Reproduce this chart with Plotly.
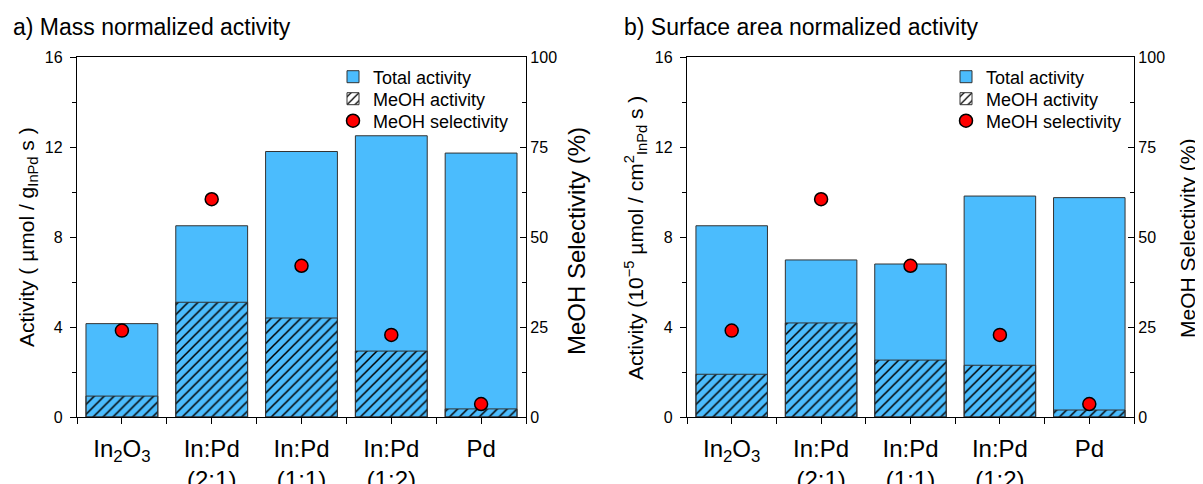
import plotly.graph_objects as go

# page body has an 8px margin, so the figure is drawn 8px in from the top-left corner
OFF = 8
W, H = 1203 - OFF, 484 - OFF

categories = ["In<sub>2</sub>O<sub>3</sub>", "In:Pd<br>(2:1)", "In:Pd<br>(1:1)", "In:Pd<br>(1:2)", "Pd"]
xpos = [0, 1, 2, 3, 4]

# a) Mass normalized activity
mass_total = [4.15, 8.5, 11.8, 12.5, 11.73]
mass_meoh = [0.93, 5.1, 4.4, 2.93, 0.36]
# b) Surface area normalized activity
surf_total = [8.5, 6.98, 6.8, 9.82, 9.75]
surf_meoh = [1.9, 4.18, 2.53, 2.3, 0.31]
# MeOH selectivity (%)
selectivity = [24.0, 60.5, 42.0, 22.8, 3.6]

act_ticks = [0, 4, 8, 12, 16]
sel_ticks = [0, 25, 50, 75, 100]

FONT = "Liberation Sans, Arial, sans-serif"
BLUE = "#4bbcfd"
EDGE = "#333333"


def px(x):
    return (x - OFF) / W


def py(y):
    return 1 - (y - OFF) / H


fig = go.Figure()


def add_panel(total, meoh, xa, ya, ya2, legs):
    fig.add_trace(go.Bar(x=xpos, y=total, width=0.8, name="Total activity",
                         marker=dict(color=BLUE, line=dict(color=EDGE, width=1)),
                         xaxis=xa, yaxis=ya, legend=legs[0]))
    fig.add_trace(go.Bar(x=xpos, y=meoh, width=0.8, name="MeOH activity",
                         marker=dict(color="rgba(0,0,0,0)", line=dict(color=EDGE, width=1),
                                     pattern=dict(shape="/", fgcolor="#000000", size=7,
                                                  solidity=0.22, fillmode="replace")),
                         xaxis=xa, yaxis=ya, legend=legs[1]))
    fig.add_trace(go.Scatter(x=xpos, y=selectivity, mode="markers", name="MeOH selectivity",
                             marker=dict(color="#ff0000", size=13, line=dict(color="#000000", width=1.5)),
                             xaxis=xa, yaxis=ya2, legend=legs[2]))


add_panel(mass_total, mass_meoh, "x", "y", "y2", ["legend", "legend2", "legend3"])
add_panel(surf_total, surf_meoh, "x2", "y3", "y4", ["legend4", "legend5", "legend6"])

tickfont = dict(family=FONT, size=16, color="black")
catfont = dict(family=FONT, size=24, color="black")


def xaxis_cfg(dom):
    return dict(domain=dom, range=[-0.5, 4.5], tickmode="array", tickvals=xpos, ticktext=categories,
                ticks="outside", ticklen=6, tickwidth=1.2, tickcolor="black", ticklabelstandoff=4,
                minor=dict(tickmode="array", tickvals=[-0.5, 0.5, 1.5, 2.5, 3.5, 4.5], ticks="outside",
                           ticklen=6, tickwidth=1.2, tickcolor="black"),
                showline=True, linecolor="black", linewidth=1.3, mirror=True,
                showgrid=False, zeroline=False, tickfont=catfont, automargin=False, fixedrange=True)


def yaxis_cfg(anchor):
    return dict(domain=[py(417), py(57)], anchor=anchor, range=[0, 16], tickmode="array", tickvals=act_ticks,
                ticks="outside", ticklen=6, tickwidth=1.2, tickcolor="black", ticklabelstandoff=4,
                minor=dict(dtick=2, ticks="outside", ticklen=4, tickwidth=1.2, tickcolor="black"),
                showline=True, linecolor="black", linewidth=1.3, showgrid=False, zeroline=False,
                tickfont=tickfont, automargin=False)


def yaxis2_cfg(anchor, over):
    return dict(anchor=anchor, overlaying=over, side="right", range=[0, 100], tickmode="array",
                tickvals=sel_ticks, ticks="inside", ticklen=6, tickwidth=1.2, tickcolor="black",
                minor=dict(dtick=12.5, ticks="inside", ticklen=4, tickwidth=1.2, tickcolor="black"),
                showline=True, linecolor="black", linewidth=1.3, showgrid=False, zeroline=False,
                tickfont=tickfont, automargin=False)


legfont = dict(family=FONT, size=18, color="black")


def leg(x, yc):
    return dict(x=px(x), y=py(yc), xanchor="left", yanchor="middle", font=legfont,
                bgcolor="rgba(0,0,0,0)", borderwidth=0, itemclick=False, itemdoubleclick=False)


fig.update_layout(
    width=W, height=H, margin=dict(l=0, r=0, t=0, b=0),
    paper_bgcolor="white", plot_bgcolor="white",
    barmode="overlay",
    font=dict(family=FONT, color="black"),
    xaxis=xaxis_cfg([px(77), px(526)]),
    yaxis=yaxis_cfg("x"),
    yaxis2=yaxis2_cfg("x", "y"),
    xaxis2=xaxis_cfg([px(687), px(1134)]),
    yaxis3=yaxis_cfg("x2"),
    yaxis4=yaxis2_cfg("x2", "y3"),
    legend=leg(333, 77), legend2=leg(333, 99), legend3=leg(333, 121),
    legend4=leg(946, 77), legend5=leg(946, 99), legend6=leg(946, 121),
    showlegend=True,
)

ann = []
ann.append(dict(text="a) Mass normalized activity", x=px(11), y=py(27), xanchor="left", yanchor="middle",
                font=dict(family=FONT, size=23)))
ann.append(dict(text="b) Surface area normalized activity", x=px(622), y=py(27), xanchor="left",
                yanchor="middle", font=dict(family=FONT, size=23)))
ann.append(dict(text="Activity ( µmol / g<sub>InPd</sub> s )", x=px(28), y=py(237), textangle=-90,
                xanchor="center", yanchor="middle", font=dict(family=FONT, size=21)))
ann.append(dict(text="MeOH Selectivity (%)", x=px(576), y=py(241), textangle=-90,
                xanchor="center", yanchor="middle", font=dict(family=FONT, size=24)))
ann.append(dict(text="Activity (10<sup>−5</sup> µmol / cm<sup>2</sup><sub>InPd</sub> s )", x=px(635),
                y=py(238), textangle=-90, xanchor="center", yanchor="middle", font=dict(family=FONT, size=21)))
ann.append(dict(text="MeOH Selectivity (%)", x=px(1187), y=py(238), textangle=-90,
                xanchor="center", yanchor="middle", font=dict(family=FONT, size=21)))
for a in ann:
    a.update(xref="paper", yref="paper", showarrow=False)
fig.update_layout(annotations=ann)

fig.write_html("out.html")
